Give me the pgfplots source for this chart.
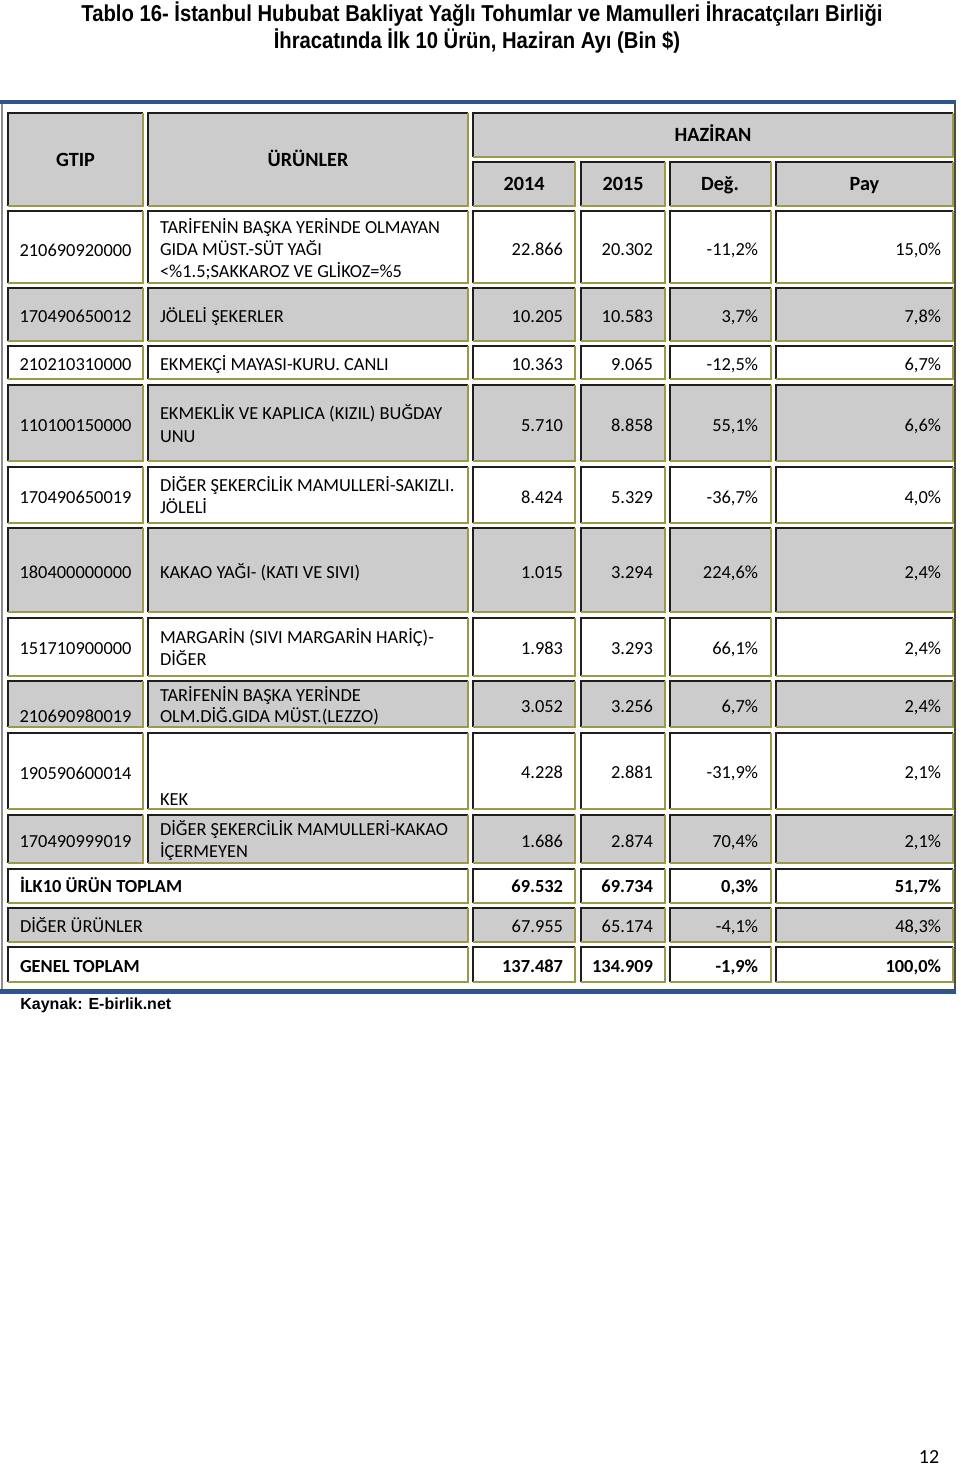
\documentclass[border=0pt]{standalone}
\usepackage{pgfplots}
\pgfplotsset{compat=1.18}
\usepackage{fontspec}
\setmainfont{Carlito}
\newfontfamily\titlefont[FakeStretch=0.88]{Liberation Sans}
\newfontfamily\arialfont{Liberation Sans}
\definecolor{cellgray}{HTML}{CCCCCC}
\definecolor{celldark}{HTML}{1E1E1E}
\definecolor{cellolive}{HTML}{9A9A48}
\definecolor{frameblue}{HTML}{2E5490}
\definecolor{framegray}{HTML}{8C8C8C}
\newcommand{\body}{\fontsize{9.2pt}{11pt}\selectfont}
\tikzset{tx/.style={inner sep=0pt, outer sep=0pt, font=\body},
         tb/.style={inner sep=0pt, outer sep=0pt, font=\body\bfseries},
         th/.style={inner sep=0pt, outer sep=0pt, font=\fontsize{10.1pt}{12pt}\selectfont\bfseries}}
\newcommand{\cell}[5]{%
  \fill[#5] (#1,#2) rectangle (#3,#4);
  \draw[line width=0.8pt,celldark] (#1,#4) -- (#1,#2) -- (#3,#2);
  \draw[line width=0.8pt,cellolive] (#3,#2) -- (#3,#4) -- (#1,#4);
}
\newcommand{\rowcells}[3]{%
  \cell{8}{#1}{143}{#2}{#3}
  \cell{148}{#1}{468}{#2}{#3}
  \cell{473}{#1}{575}{#2}{#3}
  \cell{581}{#1}{665}{#2}{#3}
  \cell{670}{#1}{771}{#2}{#3}
  \cell{776}{#1}{953}{#2}{#3}
}
\newcommand{\totcells}[3]{%
  \cell{8}{#1}{468}{#2}{#3}
  \cell{473}{#1}{575}{#2}{#3}
  \cell{581}{#1}{665}{#2}{#3}
  \cell{670}{#1}{771}{#2}{#3}
  \cell{776}{#1}{953}{#2}{#3}
}
% values: style, baseline, 2014, 2015, deg, pay
\newcommand{\vals}[6]{%
  \node[#1,anchor=base east] at (563,#2) {#3};
  \node[#1,anchor=base east] at (653,#2) {#4};
  \node[#1,anchor=base east] at (758,#2) {#5};
  \node[#1,anchor=base east] at (941,#2) {#6};
}
\newcommand{\gtip}[2]{\node[tx,anchor=base] at (75.5,#1) {#2};}
\newcommand{\prd}[2]{\node[tx,anchor=base west] at (160,#1) {#2};}
\begin{document}
\begin{tikzpicture}
\begin{axis}[
  width=480pt, height=733pt, scale only axis,
  xmin=0, xmax=960, ymin=0, ymax=1466, y dir=reverse,
  hide axis, clip=false,
]
\path (0,0) rectangle (960,1466);
% title
\node[inner sep=0pt, anchor=base, font={\titlefont\fontsize{11.5pt}{13pt}\selectfont\bfseries}] at (482,21)
  {Tablo 16- İstanbul Hububat Bakliyat Yağlı Tohumlar ve Mamulleri İhracatçıları Birliği};
\node[inner sep=0pt, anchor=base, font={\titlefont\fontsize{11.5pt}{13pt}\selectfont\bfseries}] at (477,48)
  {İhracatında İlk 10 Ürün, Haziran Ayı (Bin \$)};
% frame
\fill[frameblue] (0,100) rectangle (956,104);
\fill[frameblue] (0,989) rectangle (956,994);
\fill[framegray] (1,104) rectangle (3,989);
\fill[celldark!80] (954,104) rectangle (956,989);
% header
\cell{8}{113}{143}{206}{cellgray}
\cell{148}{113}{468}{206}{cellgray}
\cell{473}{113}{953}{157}{cellgray}
\cell{473}{162}{575}{206}{cellgray}
\cell{581}{162}{665}{206}{cellgray}
\cell{670}{162}{771}{206}{cellgray}
\cell{776}{162}{953}{206}{cellgray}
\node[th,anchor=base] at (75.5,166) {GTIP};
\node[th,anchor=base] at (308,166) {ÜRÜNLER};
\node[th,anchor=base] at (713,141) {HAZİRAN};
\node[th,anchor=base] at (524,190) {2014};
\node[th,anchor=base] at (623,190) {2015};
\node[th,anchor=base] at (720,190) {Değ.};
\node[th,anchor=base] at (864.5,190) {Pay};
% rows
\rowcells{211}{283}{white}
\rowcells{288}{341}{cellgray}
\rowcells{346}{379}{white}
\rowcells{385}{461}{cellgray}
\rowcells{467}{523}{white}
\rowcells{528}{612}{cellgray}
\rowcells{618}{676}{white}
\rowcells{681}{727}{cellgray}
\rowcells{733}{809}{white}
\rowcells{815}{863}{cellgray}
\totcells{869}{903}{white}
\totcells{908}{942}{cellgray}
\totcells{947}{982}{white}
% row 1
\gtip{256}{210690920000}
\prd{233}{TARİFENİN BAŞKA YERİNDE OLMAYAN}
\prd{255}{GIDA MÜST.-SÜT YAĞI}
\prd{277}{<\%1.5;SAKKAROZ VE GLİKOZ=\%5}
\vals{tx}{255}{22.866}{20.302}{-11,2\%}{15,0\%}
% row 2
\gtip{322}{170490650012}
\prd{322}{JÖLELİ ŞEKERLER}
\vals{tx}{322}{10.205}{10.583}{3,7\%}{7,8\%}
% row 3
\gtip{370}{210210310000}
\prd{370}{EKMEKÇİ MAYASI-KURU. CANLI}
\vals{tx}{370}{10.363}{9.065}{-12,5\%}{6,7\%}
% row 4
\gtip{431}{110100150000}
\prd{419}{EKMEKLİK VE KAPLICA (KIZIL) BUĞDAY}
\prd{442}{UNU}
\vals{tx}{431}{5.710}{8.858}{55,1\%}{6,6\%}
% row 5
\gtip{503}{170490650019}
\prd{491}{DİĞER ŞEKERCİLİK MAMULLERİ-SAKIZLI.}
\prd{513}{JÖLELİ}
\vals{tx}{503}{8.424}{5.329}{-36,7\%}{4,0\%}
% row 6
\gtip{578}{180400000000}
\prd{578}{KAKAO YAĞI- (KATI VE SIVI)}
\vals{tx}{578}{1.015}{3.294}{224,6\%}{2,4\%}
% row 7
\gtip{654}{151710900000}
\prd{643}{MARGARİN (SIVI MARGARİN HARİÇ)-}
\prd{665}{DİĞER}
\vals{tx}{654}{1.983}{3.293}{66,1\%}{2,4\%}
% row 8
\gtip{722}{210690980019}
\prd{701}{TARİFENİN BAŞKA YERİNDE}
\prd{722}{OLM.DİĞ.GIDA MÜST.(LEZZO)}
\vals{tx}{712}{3.052}{3.256}{6,7\%}{2,4\%}
% row 9
\gtip{779}{190590600014}
\prd{805}{KEK}
\vals{tx}{778}{4.228}{2.881}{-31,9\%}{2,1\%}
% row 10
\gtip{847}{170490999019}
\prd{835}{DİĞER ŞEKERCİLİK MAMULLERİ-KAKAO}
\prd{857}{İÇERMEYEN}
\vals{tx}{847}{1.686}{2.874}{70,4\%}{2,1\%}
% totals
\node[tb,anchor=base west] at (20,892) {İLK10 ÜRÜN TOPLAM};
\vals{tb}{892}{69.532}{69.734}{0,3\%}{51,7\%}
\node[tx,anchor=base west] at (20,932) {DİĞER ÜRÜNLER};
\vals{tx}{932}{67.955}{65.174}{-4,1\%}{48,3\%}
\node[tb,anchor=base west] at (20,972) {GENEL TOPLAM};
\vals{tb}{972}{137.487}{134.909}{-1,9\%}{100,0\%}
% source
\node[inner sep=0pt,anchor=base west,font={\arialfont\fontsize{8pt}{10pt}\selectfont\bfseries}] at (20,1009) {Kaynak: E-birlik.net};
% page number
\node[inner sep=0pt,anchor=base,font={\fontsize{10pt}{12pt}\selectfont}] at (929,1463) {12};
\end{axis}
\end{tikzpicture}
\end{document}
